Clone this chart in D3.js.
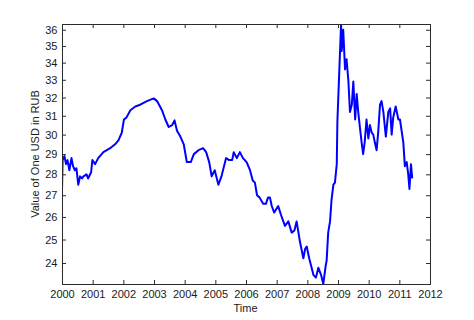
<!DOCTYPE html>
<html>
<head>
<meta charset="utf-8">
<script src="https://cdn.jsdelivr.net/npm/d3@7"></script>
<style>
    body { margin: 0; background: #fff; }
    svg { display: block; }
</style>
</head>
<body>
<svg id="chart" width="474" height="320"></svg>
<script>
// USD/RUB (decimal year, rubles per dollar)
var years = [
    2000.00, 2000.02, 2000.08, 2000.13, 2000.18, 2000.24, 2000.31, 2000.36, 2000.42, 2000.47,
    2000.53, 2000.59, 2000.65, 2000.70, 2000.80, 2000.85, 2000.95, 2000.99, 2001.08, 2001.18,
    2001.35, 2001.57, 2001.73, 2001.84, 2001.95, 2002.02, 2002.10, 2002.23, 2002.39, 2002.55,
    2002.77, 2002.99, 2003.10, 2003.26, 2003.37, 2003.48, 2003.59, 2003.67, 2003.75, 2003.86,
    2003.97, 2004.07, 2004.20, 2004.30, 2004.45, 2004.60, 2004.70, 2004.80, 2004.88, 2004.98,
    2005.10, 2005.20, 2005.35, 2005.45, 2005.55, 2005.60, 2005.70, 2005.80, 2005.90, 2006.02,
    2006.13, 2006.22, 2006.29, 2006.36, 2006.44, 2006.56, 2006.65, 2006.72, 2006.78, 2006.84,
    2006.92, 2007.05, 2007.14, 2007.27, 2007.38, 2007.49, 2007.58, 2007.65, 2007.76, 2007.87,
    2007.93, 2007.98, 2008.06, 2008.10, 2008.20, 2008.28, 2008.36, 2008.45, 2008.52, 2008.60,
    2008.63, 2008.68, 2008.74, 2008.79, 2008.85, 2008.90, 2008.96, 2008.98, 2009.04, 2009.10,
    2009.12, 2009.17, 2009.23, 2009.28, 2009.34, 2009.39, 2009.45, 2009.50, 2009.56, 2009.61,
    2009.66, 2009.72, 2009.77, 2009.82, 2009.87, 2009.93, 2009.99, 2010.04, 2010.10, 2010.15,
    2010.20, 2010.26, 2010.31, 2010.37, 2010.42, 2010.48, 2010.56, 2010.64, 2010.70, 2010.75,
    2010.80, 2010.88, 2010.97, 2011.02, 2011.13, 2011.18, 2011.24, 2011.29, 2011.33, 2011.38,
    2011.42
];

var rub = [
    27.2, 28.7, 28.9, 28.5, 28.7, 28.2, 28.8, 28.4, 28.2, 28.3,
    27.5, 27.9, 27.8, 27.9, 28.0, 27.8, 28.1, 28.7, 28.5, 28.8,
    29.1, 29.3, 29.5, 29.7, 30.1, 30.8, 30.9, 31.3, 31.5, 31.6,
    31.8, 31.95, 31.8, 31.3, 30.8, 30.4, 30.5, 30.75, 30.2, 29.9,
    29.5, 28.6, 28.6, 29.0, 29.2, 29.3, 29.1, 28.6, 27.9, 28.2,
    27.5, 27.9, 28.8, 28.7, 28.7, 29.1, 28.8, 29.1, 28.8, 28.6,
    28.2, 27.7, 27.6, 27.0, 26.9, 26.6, 26.6, 26.9, 26.9, 26.5,
    26.2, 26.5, 26.1, 25.6, 25.8, 25.3, 25.4, 25.8, 24.9, 24.2,
    24.6, 24.7, 24.2, 24.0, 23.5, 23.4, 23.8, 23.5, 23.14, 23.9,
    24.1, 25.3, 25.8, 26.8, 27.5, 27.6, 28.5, 30.7, 33.4, 36.36,
    34.7, 36.0, 33.6, 34.2, 32.9, 31.2, 31.6, 32.9, 30.8, 32.2,
    31.2, 30.3, 29.6, 29.0, 29.6, 30.8, 29.8, 30.5, 30.1, 30.0,
    29.6, 29.2, 30.1, 31.6, 31.8, 31.2, 29.9, 31.2, 31.4, 30.0,
    30.9, 31.5, 30.8, 30.8, 29.6, 28.4, 28.6, 28.0, 27.3, 28.5,
    27.8
];

var xTicks = [2000, 2001, 2002, 2003, 2004, 2005, 2006, 2007, 2008, 2009, 2010, 2011, 2012];
var yTicks = [24, 25, 26, 27, 28, 29, 30, 31, 32, 33, 34, 35, 36];

var xLabel = "Time";
var yLabel = "Value of One USD in RUB";

const createsvg = (d3, svg) =>
{
    svg.selectAll('*').remove();

    var left = 62, right = 430, top = 24, bottom = 284;
    var tickLen = 4;
    var axisColor = "#2b2b2b";
    var font = "'Liberation Sans', Arial, Helvetica, sans-serif";

    var points = years.map((y, i) => [y, rub[i]]);

    var x = d3.scaleLinear().domain([2000, 2012]).range([left, right]);
    // axis is tight on the data, log scaled
    var y = d3.scaleLog().domain([d3.min(rub), d3.max(rub)]).range([bottom, top]);

    svg.append("defs").append("clipPath")
        .attr("id", "plotclip")
        .append("rect")
        .attr("x", left).attr("y", top)
        .attr("width", right - left).attr("height", bottom - top);

    var line = d3.line()
        .x(d => x(d[0]))
        .y(d => y(d[1]));

    svg.append("path")
        .datum(points)
        .attr("clip-path", "url(#plotclip)")
        .attr("fill", "none")
        .attr("stroke", "#0000ff")
        .attr("stroke-width", 2)
        .attr("stroke-linejoin", "round")
        .attr("d", line);

    // bottom / left axes with inward ticks and the mirrored top / right ticks
    var xAxis = d3.axisBottom(x).tickValues(xTicks).tickFormat(d3.format("d"))
        .tickSizeInner(-tickLen).tickSizeOuter(0).tickPadding(6);
    var yAxis = d3.axisLeft(y).tickValues(yTicks).tickFormat(d3.format("d"))
        .tickSizeInner(-tickLen).tickSizeOuter(0).tickPadding(4.5);
    var xTop = d3.axisTop(x).tickValues(xTicks).tickFormat("")
        .tickSizeInner(-tickLen).tickSizeOuter(0);
    var yRight = d3.axisRight(y).tickValues(yTicks).tickFormat("")
        .tickSizeInner(-tickLen).tickSizeOuter(0);

    var gx = svg.append("g").attr("transform", `translate(0,${bottom})`).call(xAxis);
    var gy = svg.append("g").attr("transform", `translate(${left},0)`).call(yAxis);
    var gt = svg.append("g").attr("transform", `translate(0,${top})`).call(xTop);
    var gr = svg.append("g").attr("transform", `translate(${right},0)`).call(yRight);

    [gx, gy, gt, gr].forEach(function (g)
    {
        g.select(".domain").remove();
        g.selectAll(".tick line").attr("stroke", axisColor);
        g.selectAll("text")
            .attr("fill", "#1a1a1a")
            .attr("font-family", font)
            .attr("font-size", 11);
    });

    svg.append("rect")
        .attr("x", left + 0.5).attr("y", top + 0.5)
        .attr("width", right - left).attr("height", bottom - top)
        .attr("fill", "none")
        .attr("stroke", axisColor)
        .attr("stroke-width", 1);

    svg.append("text")
        .attr("x", 245.5)
        .attr("y", 311.5)
        .attr("text-anchor", "middle")
        .attr("font-family", font)
        .attr("font-size", 11)
        .attr("fill", "#1a1a1a")
        .text(xLabel);

    svg.append("text")
        .attr("transform", `translate(39,${(top + bottom) / 2}) rotate(-90)`)
        .attr("text-anchor", "middle")
        .attr("font-family", font)
        .attr("font-size", 11)
        .attr("fill", "#1a1a1a")
        .text(yLabel);
};

createsvg(d3, d3.select("#chart"));
</script>
</body>
</html>
